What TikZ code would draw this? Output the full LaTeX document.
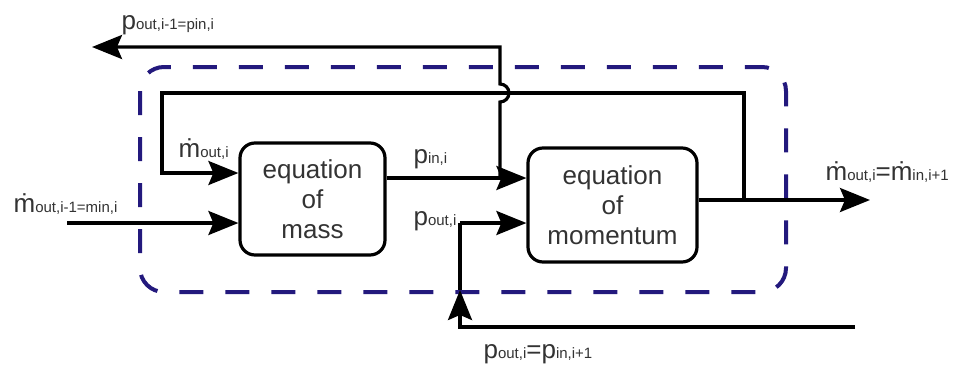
\documentclass[tikz,border=0pt]{standalone}
\usepackage{fontspec}
\setmainfont{Liberation Sans}
\usetikzlibrary{arrows.meta,positioning,calc}
\definecolor{ctrlblue}{RGB}{35,25,125}
\newcommand{\bs}[2]{{\fontsize{13}{15}\selectfont #1}{\fontsize{7.5}{9}\selectfont #2}}

\begin{document}
\begin{tikzpicture}[
x=0.5pt,y=-0.5pt,
line width=1.6pt,
eqbox/.style={draw,rounded corners=7.5pt,align=center,inner sep=0pt,
  font=\fontsize{13}{15}\selectfont,text=black!80},
flow/.style={-{Stealth[length=15pt,width=12pt,inset=2.5pt]}},
lab/.style={anchor=base west,inner sep=0pt,text=black!80},
]
\useasboundingbox (0,0) rectangle (953,365);

% the two balance blocks
\node[eqbox,minimum width=72.5pt,minimum height=56pt] (mass) at (312.5,199) {equation\\of\\mass};
\node[eqbox,minimum width=84.5pt,minimum height=57pt] (mom) at (612.5,205) {equation\\of\\momentum};

% control volume
\draw[ctrlblue,line width=2pt,dash pattern=on 12pt off 11pt,rounded corners=12pt]
  (140,67) rectangle (786,292);

\coordinate (inL) at (67,223);
\coordinate (mlev) at (200,173);
\coordinate (tap) at (500,178);
\coordinate (pturn) at (460,223);
\coordinate (split) at (744,200);
\coordinate (outR) at (870,200);
\coordinate (fbL) at (162,93);
\coordinate (topR) at (500,47);
\coordinate (topL) at (92,47);
\coordinate (botR) at (855,327);
\coordinate (botL) at (460,327);
\coordinate (cross) at (460,290);

\draw[flow] (inL) -- (inL -| mass.west);
\draw[flow] (mass.east |- tap) -- (mom.west |- tap);
\draw[flow] (pturn) -- (pturn -| mom.west);
\draw (mom.east |- split) -- (split);
\draw[flow] (split) -- (outR);
\draw[flow] (split) |- (fbL) |- (mass.west |- mlev);
\draw[flow] (tap) -- ($(tap |- fbL)+(0,9)$) arc[start angle=-90,end angle=90,radius=4.5pt]
  -- (topR) -- (topL);
\draw[flow] (botR) -- (botL) -- (cross);
\draw (cross) -- (pturn);

% labels
\node[lab] (ltop) at (120,29) {\bs{p}{out,i-1=pin,i}};
\node[lab] (lmout) at (177,157) {\bs{ṁ}{out,i}};
\node[lab] (lmin) at (12,212) {\bs{ṁ}{out,i-1=min,i}};
\node[lab] (lpin) at (412,163) {\bs{p}{in,i}};
\node[lab] (lpout) at (412,225) {\bs{p}{out,i}};
\node[lab] (lmo) at (824,180) {\bs{ṁ}{out,i}\bs{=ṁ}{in,i+1}};
\node[lab] (lpo) at (482,358) {\bs{p}{out,i}\bs{=p}{in,i+1}};

\end{tikzpicture}
\end{document}
